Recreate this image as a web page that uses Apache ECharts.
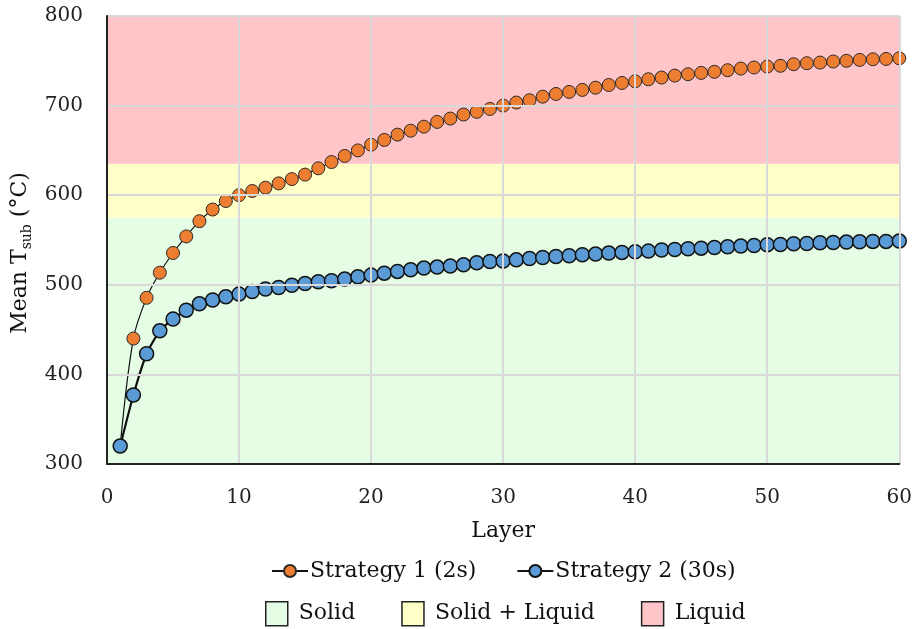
<!DOCTYPE html>
<html><head><meta charset="utf-8">
<script src="https://cdn.jsdelivr.net/npm/echarts@6/dist/echarts.min.js"></script>
<style>html,body{margin:0;padding:0;background:#fff}#c{width:915px;height:629px}</style>
</head><body><div id="c"></div>
<script>
const layers = [1,2,3,4,5,6,7,8,9,10,11,12,13,14,15,16,17,18,19,20,21,22,23,24,25,26,27,28,29,30,31,32,33,34,35,36,37,38,39,40,41,42,43,44,45,46,47,48,49,50,51,52,53,54,55,56,57,58,59,60];
const strategy1 = [320,440,485.5,513.5,535.5,554,571,584,593.5,600,
  604.7,608.4,613.2,618,623,630,637,643.8,650,656.4,
  661.7,667.6,672,676.5,681.8,685.5,690,693,696.3,700,
  703.4,706,710,713,715.3,717.5,720,723,725.3,727.1,
  729.4,731.3,733.5,735,736.5,737.7,739.5,741.3,742.5,743.6,
  744.4,746.2,747.3,748,749.2,750,751,751.7,752.1,752.8];
const strategy2 = [320,377,423,448.6,461.7,471.7,478.8,483,486.6,489.6,
  492.5,495.2,497,499.5,501.5,503.4,504.5,506.4,509,510.8,
  513,514.9,516.8,518.7,519.8,520.9,522.3,524.6,526,526.5,
  527.9,529.4,530.5,531.6,532.4,533.5,534.3,535.4,536.1,536.9,
  537.6,538.8,539.4,540.2,540.9,541.6,542.5,543.2,543.9,544.7,
  545,545.8,546.1,546.9,547.2,547.7,548,548.4,548.4,548.8];
const seriesNames = ['Strategy 1 (2s)', 'Strategy 2 (30s)'];
const bandNames = ['Solid', 'Solid + Liquid', 'Liquid'];
const bandLower = [300, 575, 635];
const bandUpper = [575, 635, 800];
const bandColors = ['#E5FCE5', '#FFFFC8', '#FFC5C8'];
const xTicks = {min: 0, max: 60, interval: 10};
const yTicks = {min: 300, max: 800, interval: 100};

const FONT = 'DejaVu Serif';
const chart = echarts.init(document.getElementById('c'), null, {renderer: 'canvas'});

const bandSeries = bandNames.map((n, i) => ({
  name: n, type: 'line', data: [], silent: true, z: 0,
  itemStyle: {color: bandColors[i]},
  lineStyle: {color: bandColors[i]},
  markArea: {
    silent: true,
    itemStyle: {color: bandColors[i], opacity: 1},
    data: [[{yAxis: bandLower[i]}, {yAxis: bandUpper[i]}]]
  }
}));

chart.setOption({
  animation: false,
  backgroundColor: '#fff',
  textStyle: {fontFamily: FONT},
  grid: {left: 107, right: 15, top: 16, bottom: 165, containLabel: false},
  xAxis: {
    type: 'value', min: xTicks.min, max: xTicks.max, interval: xTicks.interval,
    name: 'Layer', nameLocation: 'middle', nameGap: 56,
    nameTextStyle: {fontFamily: FONT, fontSize: 22, color: '#111'},
    axisLine: {show: true, onZero: false, lineStyle: {color: '#222', width: 2}},
    axisTick: {show: false},
    axisLabel: {fontFamily: FONT, fontSize: 20, color: '#222', margin: 24},
    splitLine: {show: true, lineStyle: {color: '#D9D9D9', width: 2}},
    z: 5
  },
  yAxis: {
    type: 'value', min: yTicks.min, max: yTicks.max, interval: yTicks.interval,
    name: '{a|Mean T}{s|sub}{a| (°C)}', nameLocation: 'middle', nameGap: 70,
    nameTextStyle: {
      fontFamily: FONT, color: '#111', padding: [0, 26, 0, 0],
      rich: {
        a: {fontFamily: FONT, fontSize: 22, color: '#111'},
        s: {fontFamily: FONT, fontSize: 14, color: '#111', verticalAlign: 'bottom', padding: [14, 0, 0, 0]}
      }
    },
    axisLine: {show: true, lineStyle: {color: '#222', width: 2}},
    axisTick: {show: false},
    axisLabel: {fontFamily: FONT, fontSize: 20, color: '#222', margin: 24},
    splitLine: {show: true, lineStyle: {color: '#D9D9D9', width: 2}},
    z: 5
  },
  legend: [
    {
      data: seriesNames, left: 266, top: 555, orient: 'horizontal',
      itemWidth: 36, itemHeight: 15, itemGap: 40,
      textStyle: {fontFamily: FONT, fontSize: 22, color: '#111', padding: [0, 0, 0, -3]},
      selectedMode: false
    },
    {
      data: bandNames.map(n => ({name: n, icon: 'rect'})), left: 260, top: 596, orient: 'horizontal',
      itemWidth: 22, itemHeight: 24, itemGap: 46,
      itemStyle: {borderColor: '#222', borderWidth: 1.5},
      textStyle: {fontFamily: FONT, fontSize: 22, color: '#111', padding: [0, 0, 0, 6]},
      selectedMode: false
    }
  ],
  series: [
    ...bandSeries,
    {
      name: seriesNames[0], type: 'line', z: 3,
      data: layers.map((l, i) => [l, strategy1[i]]),
      smooth: 0.35,
      symbol: 'circle', symbolSize: 13, showAllSymbol: true,
      lineStyle: {color: '#111', width: 1.2},
      itemStyle: {color: '#ED7D31', borderColor: '#2b2b2b', borderWidth: 1}
    },
    {
      name: seriesNames[1], type: 'line', z: 4,
      data: layers.map((l, i) => [l, strategy2[i]]),
      smooth: 0.2,
      symbol: 'circle', symbolSize: 14, showAllSymbol: true,
      lineStyle: {color: '#111', width: 2.2},
      itemStyle: {color: '#5B9BD5', borderColor: '#111', borderWidth: 1.5}
    }
  ]
});
</script></body></html>
